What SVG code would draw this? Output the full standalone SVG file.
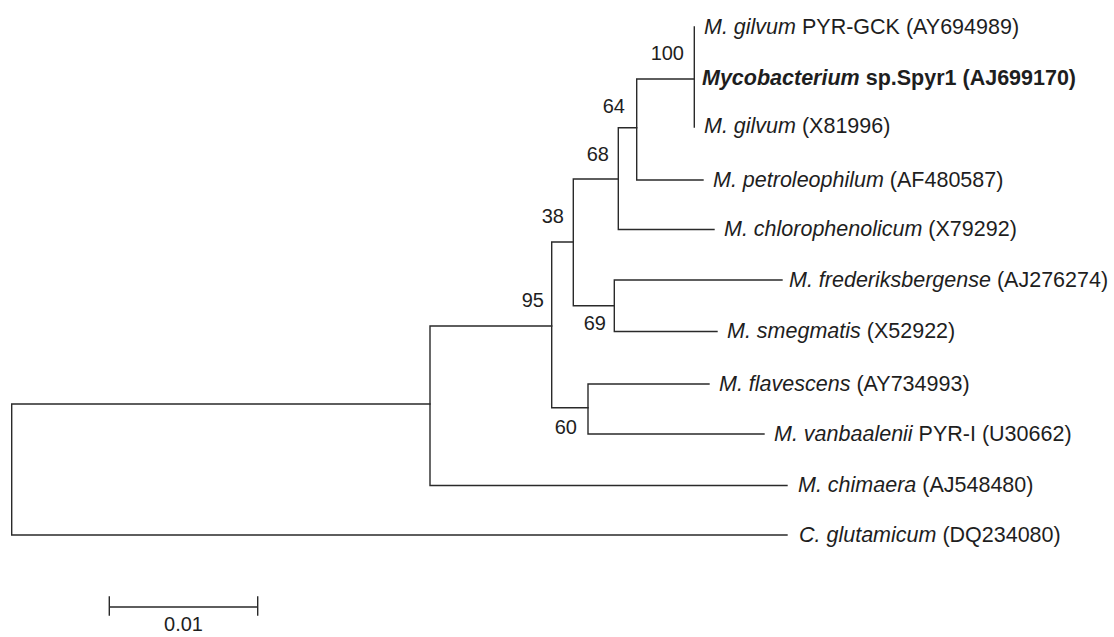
<svg xmlns="http://www.w3.org/2000/svg" width="1114" height="637" viewBox="0 0 1114 637">
<style>
.e{stroke:#2a2a2a;stroke-width:1.4;fill:none;stroke-linecap:square}
.t{font-family:"Liberation Sans",Arial,sans-serif;font-size:21.5px;fill:#1e1e1e}
.i{font-style:italic}
.b{font-weight:bold}
.n{font-family:"Liberation Sans",Arial,sans-serif;font-size:20px;fill:#1e1e1e;text-anchor:end}
</style>
<rect width="1114" height="637" fill="#ffffff"/>
<g id="connectors">
<path class="e" d="M11.7,404 V535 M11.7,404 H430 M11.7,535 H787"/>
<path class="e" d="M430,326 V485.5 M430,326 H551.7 M430,485.5 H787"/>
<path class="e" d="M551.7,242 V407.7 M551.7,242 H573.3 M551.7,407.7 H588"/>
<path class="e" d="M573.3,179 V305.7 M573.3,179 H618.3 M573.3,305.7 H614.3"/>
<path class="e" d="M618.3,127.7 V229.5 M618.3,127.7 H636.7 M618.3,229.5 H714"/>
<path class="e" d="M636.7,79 V180 M636.7,79 H694.3 M636.7,180 H703"/>
<path class="e" d="M694.3,27 V127"/>
<path class="e" d="M614.3,280 V331.5 M614.3,280 H782 M614.3,331.5 H717"/>
<path class="e" d="M588,384 V434 M588,384 H709 M588,434 H764"/>
<path class="e" d="M109.3,607 H257.7 M109.3,597 V615 M257.7,597 V615"/>
</g>
<g id="leaf-gilvum-pyr"><text class="t" x="704" y="34"><tspan class="i">M. gilvum</tspan> PYR-GCK (AY694989)</text></g>
<g id="leaf-spyr1"><text class="t b" x="702" y="85"><tspan class="i">Mycobacterium</tspan> sp.Spyr1 (AJ699170)</text></g>
<g id="leaf-gilvum-x"><text class="t" x="704" y="133"><tspan class="i">M. gilvum</tspan> (X81996)</text></g>
<g id="leaf-petroleophilum"><text class="t" x="713" y="187"><tspan class="i">M. petroleophilum</tspan> (AF480587)</text></g>
<g id="leaf-chlorophenolicum"><text class="t" x="724" y="236"><tspan class="i">M. chlorophenolicum</tspan> (X79292)</text></g>
<g id="leaf-frederiksbergense"><text class="t" x="789" y="287"><tspan class="i">M. frederiksbergense</tspan> (AJ276274)</text></g>
<g id="leaf-smegmatis"><text class="t" x="727" y="338"><tspan class="i">M. smegmatis</tspan> (X52922)</text></g>
<g id="leaf-flavescens"><text class="t" x="719" y="391"><tspan class="i">M. flavescens</tspan> (AY734993)</text></g>
<g id="leaf-vanbaalenii"><text class="t" x="774" y="441"><tspan class="i">M. vanbaalenii</tspan> PYR-I (U30662)</text></g>
<g id="leaf-chimaera"><text class="t" x="798" y="492"><tspan class="i">M. chimaera</tspan> (AJ548480)</text></g>
<g id="leaf-glutamicum"><text class="t" x="799" y="542"><tspan class="i">C. glutamicum</tspan> (DQ234080)</text></g>
<g id="node-100"><text class="n" x="684" y="60">100</text></g>
<g id="node-64"><text class="n" x="625" y="113">64</text></g>
<g id="node-68"><text class="n" x="609" y="161">68</text></g>
<g id="node-38"><text class="n" x="564" y="223">38</text></g>
<g id="node-95"><text class="n" x="544" y="307">95</text></g>
<g id="node-69"><text class="n" x="606" y="330">69</text></g>
<g id="node-60"><text class="n" x="577" y="434">60</text></g>
<g id="scale"><text class="n" x="203" y="631">0.01</text></g>
</svg>
